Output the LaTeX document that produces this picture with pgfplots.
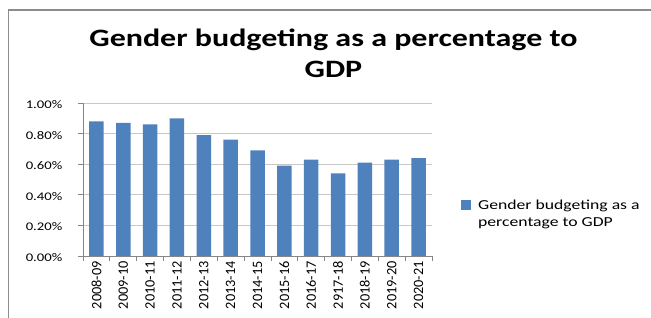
\documentclass[border=0pt]{standalone}
\usepackage{fontspec}
\usepackage{graphicx}
\setmainfont{Carlito}
\newfontfamily\titlefont[FakeStretch=1.28]{Carlito}
\newfontfamily\legfont[FakeStretch=1.29]{Carlito}
\newcommand{\yl}[1]{\scalebox{1.255}[1]{\fontsize{11.7bp}{14bp}\selectfont #1}}
\usepackage{pgfplots}
\pgfplotsset{compat=1.18}
\definecolor{barblue}{HTML}{4F81BD}
\definecolor{gridgray}{HTML}{C8C8C8}
\definecolor{axisgray}{HTML}{868686}
\definecolor{framegray}{HTML}{8C8C8C}
\begin{document}
\begin{tikzpicture}
\path[use as bounding box] (0,0) rectangle (651bp,318bp);
\draw[color=framegray, line width=1.2bp] (8.5bp,-1bp) -- (8.5bp,308bp) -- (652bp,308bp);
\node[anchor=base, align=center, inner sep=0pt, font=\titlefont\bfseries\fontsize{25bp}{30.6bp}\selectfont] at (333.5bp,240.7bp) {Gender budgeting as a percentage to\\GDP};
\begin{axis}[
  at={(83bp,62bp)}, anchor=south west,
  scale only axis, width=349bp, height=153bp,
  xmin=-0.5, xmax=12.5, ymin=0, ymax=1,
  axis x line*=bottom, axis y line*=left,
  axis line style={draw=axisgray, line width=0.8bp, -},
  ytick={0,0.2,0.4,0.6,0.8,1},
  yticklabels={\yl{0.00\%},\yl{0.20\%},\yl{0.40\%},\yl{0.60\%},\yl{0.80\%},\yl{1.00\%}},
  ymajorgrids, major grid style={draw=gridgray, line width=0.8bp},
  xtick={0,...,12},
  xticklabels={2008-09,2009-10,2010-11,2011-12,2012-13,2013-14,2014-15,2015-16,2016-17,2917-18,2018-19,2019-20,2020-21},
  major x tick style={draw=none},
  minor xtick={-0.5,0.5,...,12.5},
  minor x tick style={draw=axisgray, line width=0.8bp},
  minor tick length=5bp,
  tick align=outside, major tick length=5bp,
  major y tick style={draw=axisgray, line width=0.8bp},
  xticklabel style={rotate=90, anchor=east, inner sep=0pt, font=\fontsize{14.3bp}{16bp}\selectfont},
  yticklabel style={inner sep=0pt, xshift=-15.5bp, yshift=-1.5bp},
  legend image code/.code={\fill[barblue] (0bp,4bp) rectangle (10bp,14bp);},
  legend cell align=left,
  legend style={draw=none, fill=none, at={(1.083,0.379)}, anchor=north west, inner sep=0pt,
    font=\legfont\fontsize{13.7bp}{16.7bp}\selectfont, cells={align=left},
    /tikz/every odd column/.append style={column sep=5bp}},
]
\addplot[ybar, bar width=14.5bp, bar shift=0pt, fill=barblue, draw=none] coordinates {
(0,0.88) (1,0.87) (2,0.86) (3,0.90) (4,0.79) (5,0.76) (6,0.69) (7,0.59) (8,0.63) (9,0.54) (10,0.61) (11,0.63) (12,0.64)};
\addlegendentry{Gender budgeting as a\\percentage to GDP}
\end{axis}
\end{tikzpicture}
\end{document}
